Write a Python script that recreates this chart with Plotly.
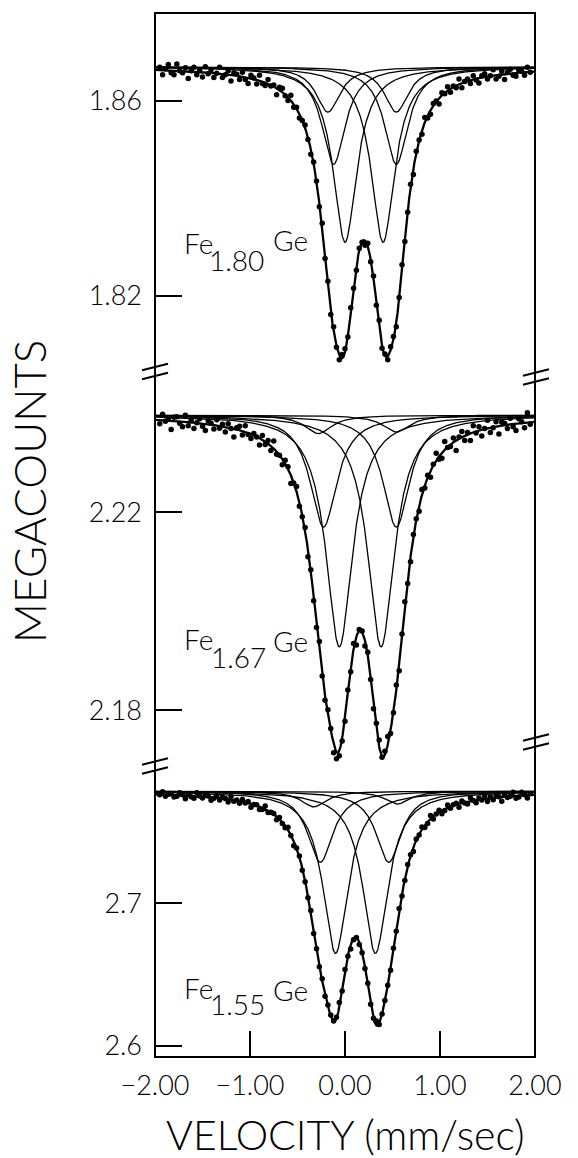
import numpy as np
import plotly.graph_objects as go

# Folded velocity channels (mm/sec)
V_START = -1.95
V_STEP = 0.03

# Measured counts per channel, Megacounts
COUNTS_180 = [
    1.8669, 1.8654, 1.8666, 1.8675, 1.8658, 1.8654, 1.8676, 1.8662, 1.8658, 1.8668,
    1.8646, 1.8662, 1.8669, 1.8654, 1.8663, 1.8649, 1.8670, 1.8656, 1.8664, 1.8648,
    1.8657, 1.8669, 1.8648, 1.8654, 1.8662, 1.8641, 1.8658, 1.8655, 1.8644, 1.8659,
    1.8644, 1.8636, 1.8653, 1.8647, 1.8635, 1.8653, 1.8636, 1.8632, 1.8644, 1.8631,
    1.8633, 1.8613, 1.8628, 1.8626, 1.8611, 1.8601, 1.8612, 1.8587, 1.8587, 1.8565,
    1.8560, 1.8551, 1.8521, 1.8491, 1.8475, 1.8436, 1.8383, 1.8349, 1.8277, 1.8230,
    1.8162, 1.8137, 1.8095, 1.8069, 1.8080, 1.8092, 1.8116, 1.8176, 1.8216, 1.8253,
    1.8298, 1.8310, 1.8304, 1.8308, 1.8270, 1.8241, 1.8181, 1.8150, 1.8093, 1.8081,
    1.8069, 1.8096, 1.8117, 1.8137, 1.8197, 1.8264, 1.8312, 1.8372, 1.8429, 1.8449,
    1.8497, 1.8520, 1.8532, 1.8566, 1.8565, 1.8573, 1.8595, 1.8600, 1.8594, 1.8617,
    1.8615, 1.8629, 1.8618, 1.8631, 1.8627, 1.8645, 1.8627, 1.8640, 1.8645, 1.8636,
    1.8652, 1.8643, 1.8637, 1.8652, 1.8656, 1.8645, 1.8652, 1.8664, 1.8645, 1.8651,
    1.8661, 1.8644, 1.8659, 1.8665, 1.8653, 1.8651, 1.8663, 1.8661, 1.8653, 1.8669,
    1.8659,
]
COUNTS_167 = [
    2.2379, 2.2398, 2.2384, 2.2390, 2.2367, 2.2392, 2.2393, 2.2380, 2.2373, 2.2396,
    2.2375, 2.2385, 2.2369, 2.2381, 2.2389, 2.2374, 2.2365, 2.2385, 2.2380, 2.2368,
    2.2387, 2.2370, 2.2378, 2.2362, 2.2379, 2.2369, 2.2352, 2.2371, 2.2374, 2.2356,
    2.2375, 2.2357, 2.2349, 2.2359, 2.2352, 2.2336, 2.2355, 2.2337, 2.2345, 2.2325,
    2.2344, 2.2317, 2.2315, 2.2296, 2.2305, 2.2292, 2.2258, 2.2259, 2.2252, 2.2212,
    2.2191, 2.2169, 2.2110, 2.2084, 2.2021, 2.1967, 2.1939, 2.1869, 2.1820, 2.1801,
    2.1763, 2.1714, 2.1702, 2.1708, 2.1738, 2.1778, 2.1841, 2.1878, 2.1935, 2.1932,
    2.1963, 2.1960, 2.1930, 2.1917, 2.1862, 2.1803, 2.1774, 2.1740, 2.1705, 2.1717,
    2.1747, 2.1753, 2.1795, 2.1851, 2.1880, 2.1954, 2.2019, 2.2056, 2.2100, 2.2155,
    2.2187, 2.2202, 2.2246, 2.2249, 2.2275, 2.2271, 2.2297, 2.2319, 2.2307, 2.2309,
    2.2343, 2.2331, 2.2333, 2.2350, 2.2325, 2.2352, 2.2363, 2.2345, 2.2361, 2.2345,
    2.2375, 2.2360, 2.2373, 2.2354, 2.2369, 2.2386, 2.2361, 2.2371, 2.2383, 2.2358,
    2.2382, 2.2380, 2.2369, 2.2390, 2.2373, 2.2365, 2.2389, 2.2383, 2.2371, 2.2401,
    2.2378,
]
COUNTS_155 = [
    2.7764, 2.7785, 2.7752, 2.7767, 2.7772, 2.7747, 2.7752, 2.7777, 2.7764, 2.7735,
    2.7768, 2.7749, 2.7738, 2.7777, 2.7754, 2.7741, 2.7762, 2.7754, 2.7724, 2.7738,
    2.7756, 2.7726, 2.7745, 2.7737, 2.7713, 2.7751, 2.7717, 2.7727, 2.7703, 2.7730,
    2.7706, 2.7716, 2.7675, 2.7695, 2.7693, 2.7659, 2.7660, 2.7684, 2.7638, 2.7640,
    2.7631, 2.7588, 2.7604, 2.7562, 2.7531, 2.7535, 2.7476, 2.7405, 2.7389, 2.7332,
    2.7233, 2.7152, 2.7039, 2.6950, 2.6788, 2.6681, 2.6553, 2.6470, 2.6346, 2.6285,
    2.6214, 2.6173, 2.6198, 2.6302, 2.6383, 2.6535, 2.6628, 2.6679, 2.6744, 2.6759,
    2.6711, 2.6653, 2.6542, 2.6438, 2.6290, 2.6192, 2.6173, 2.6147, 2.6222, 2.6316,
    2.6423, 2.6529, 2.6683, 2.6803, 2.6964, 2.7052, 2.7161, 2.7272, 2.7342, 2.7364,
    2.7452, 2.7481, 2.7536, 2.7533, 2.7562, 2.7618, 2.7593, 2.7628, 2.7654, 2.7629,
    2.7653, 2.7691, 2.7668, 2.7693, 2.7703, 2.7676, 2.7720, 2.7706, 2.7699, 2.7743,
    2.7723, 2.7707, 2.7741, 2.7727, 2.7756, 2.7716, 2.7747, 2.7729, 2.7762, 2.7749,
    2.7717, 2.7763, 2.7744, 2.7752, 2.7781, 2.7739, 2.7748, 2.7781, 2.7764, 2.7741,
    2.7772,
]

# Fitted Lorentzian lines: off-resonance level, line centres (mm/sec),
# line depths (Megacounts) and half width at half maximum (mm/sec)
BASE_180 = 1.8670
CENTRE_180 = [-0.18, 0.54, -0.12, 0.54, 0.00, 0.40]
DEPTH_180 = [0.0093, 0.0093, 0.0200, 0.0200, 0.0360, 0.0360]
HWHM_180 = 0.15

BASE_167 = 2.2396
CENTRE_167 = [-0.28, 0.54, -0.226, 0.54, -0.06, 0.38]
DEPTH_167 = [0.0037, 0.0034, 0.0226, 0.0226, 0.0468, 0.0468]
HWHM_167 = 0.17

BASE_155 = 2.7788
CENTRE_155 = [-0.33, 0.55, -0.26, 0.46, -0.10, 0.32]
DEPTH_155 = [0.011, 0.009, 0.050, 0.050, 0.114, 0.114]
HWHM_155 = 0.16

X_TICKS = [-2, -1, 0, 1, 2]
Y_TICKS_180 = [1.82, 1.86]
Y_TICKS_167 = [2.18, 2.22]
Y_TICKS_155 = [2.6, 2.7]

# ---- page geometry (pixels) ----
W, H = 578, 1158
ML, MR, MT, MB = 155, 43, 13, 101
PW, PH = W - ML - MR, H - MT - MB
FONT = "Lato"
INK = "black"


def px_x(px):
    return (px - ML) / PW


def px_y(py):
    return (MT + PH - py) / PH


# panel boundaries (page pixels) between the broken y-axis sections
CUT_TOP, CUT_BOTTOM = 371.5, 766.0

panels = [
    dict(name="y3", counts=COUNTS_180, base=BASE_180, centres=CENTRE_180,
         depths=DEPTH_180, hwhm=HWHM_180, ticks=Y_TICKS_180, fmt=".2f",
         domain=[px_y(CUT_TOP), 1.0], yrange=[1.80451, 1.87805],
         sub="1.80", label_y=(1.8309, 1.8274, 1.8315), sub_x=-1.44),
    dict(name="y2", counts=COUNTS_167, base=BASE_167, centres=CENTRE_167,
         depths=DEPTH_167, hwhm=HWHM_167, ticks=Y_TICKS_167, fmt=".2f",
         domain=[px_y(CUT_BOTTOM), px_y(CUT_TOP)], yrange=[2.16874, 2.24844],
         sub="1.67", label_y=(2.1943, 2.1907, 2.1939), sub_x=-1.42),
    dict(name="y", counts=COUNTS_155, base=BASE_155, centres=CENTRE_155,
         depths=DEPTH_155, hwhm=HWHM_155, ticks=Y_TICKS_155, fmt=".1f",
         domain=[0.0, px_y(CUT_BOTTOM)], yrange=[2.59191, 2.79655],
         sub="1.55", label_y=(2.6404, 2.6295, 2.6390), sub_x=-1.43),
]

fig = go.Figure()
v_fine = np.linspace(-2.0, 2.0, 1601)

annotations = []
layout_axes = {}
for p in panels:
    yref = p["name"]
    counts = np.array(p["counts"])
    vel = V_START + V_STEP * np.arange(len(counts))

    # individual fitted lines and their sum
    total = np.zeros_like(v_fine)
    for c, d in zip(p["centres"], p["depths"]):
        line = d / (1.0 + ((v_fine - c) / p["hwhm"]) ** 2)
        total += line
        fig.add_trace(go.Scatter(
            x=v_fine, y=p["base"] - line, mode="lines", yaxis=yref,
            line=dict(color=INK, width=1.3), hoverinfo="skip", showlegend=False))
    fig.add_trace(go.Scatter(
        x=v_fine, y=p["base"] - total, mode="lines", yaxis=yref,
        line=dict(color=INK, width=2.3), hoverinfo="skip", showlegend=False))
    fig.add_trace(go.Scatter(
        x=vel, y=counts, mode="markers", yaxis=yref, cliponaxis=False,
        marker=dict(color=INK, size=5.5, line=dict(width=0)), showlegend=False))

    key = "yaxis" if yref == "y" else "yaxis" + yref[1:]
    layout_axes[key] = dict(
        domain=p["domain"], range=p["yrange"], anchor="x",
        tickvals=p["ticks"], tickformat=p["fmt"], ticks="inside",
        ticklen=27, tickwidth=2, tickcolor=INK, ticklabelstandoff=12,
        showgrid=False, zeroline=False, showline=False,
        tickfont=dict(family=FONT, size=27, color=INK, weight=300),
    )

    # sample label, e.g. Fe1.80Ge
    ly_fe, ly_sub, ly_ge = p["label_y"]
    for txt, xx, yy in (("Fe", -1.705, ly_fe), (p["sub"], p["sub_x"], ly_sub),
                        ("Ge", -0.768, ly_ge)):
        annotations.append(dict(
            text=txt, x=xx, y=yy, xref="x", yref=yref, xanchor="left",
            yanchor="middle", showarrow=False, borderpad=0,
            font=dict(family=FONT, size=28, color=INK, weight=300)))

# axis titles
annotations.append(dict(
    text="VELOCITY (mm/sec)", x=0.5, y=px_y(1134), xref="paper", yref="paper",
    xanchor="center", yanchor="middle", showarrow=False, borderpad=0,
    font=dict(family=FONT, size=41, color=INK, weight=300)))
annotations.append(dict(
    text="MEGACOUNTS", x=px_x(29), y=px_y(492), xref="paper", yref="paper",
    xanchor="center", yanchor="middle", textangle=-90, showarrow=False,
    font=dict(family=FONT, size=44, color=INK, weight=300)))

# frame and axis-break marks
shapes = [dict(type="rect", xref="paper", yref="paper", x0=0, x1=1, y0=0, y1=1,
               line=dict(color=INK, width=2), layer="above")]


def break_marks(cx, cy, half=13.0, rise=6.5, gap=9.0):
    out = []
    for off in (-gap / 2, gap / 2):
        out.append(dict(
            type="line", xref="paper", yref="paper",
            x0=px_x(cx - half), y0=px_y(cy + off + rise / 2),
            x1=px_x(cx + half), y1=px_y(cy + off - rise / 2),
            line=dict(color=INK, width=2), layer="above"))
    return out


shapes += break_marks(ML, CUT_TOP)
shapes += break_marks(ML, CUT_BOTTOM)
shapes += break_marks(ML + PW + 1, 377)
shapes += break_marks(ML + PW + 1, 742)

fig.update_layout(
    width=W, height=H,
    margin=dict(l=ML, r=MR, t=MT, b=MB, pad=0),
    paper_bgcolor="white", plot_bgcolor="white",
    showlegend=False,
    xaxis=dict(
        range=[-2.0, 2.0], domain=[0, 1], anchor="y",
        tickvals=X_TICKS, tickformat=".2f", ticks="inside", ticklen=26,
        tickwidth=2, tickcolor=INK, ticklabelstandoff=10,
        showgrid=False, zeroline=False, showline=False,
        tickfont=dict(family=FONT, size=27, color=INK, weight=300)),
    annotations=annotations,
    shapes=shapes,
    **layout_axes,
)

fig.write_html("out.html")
